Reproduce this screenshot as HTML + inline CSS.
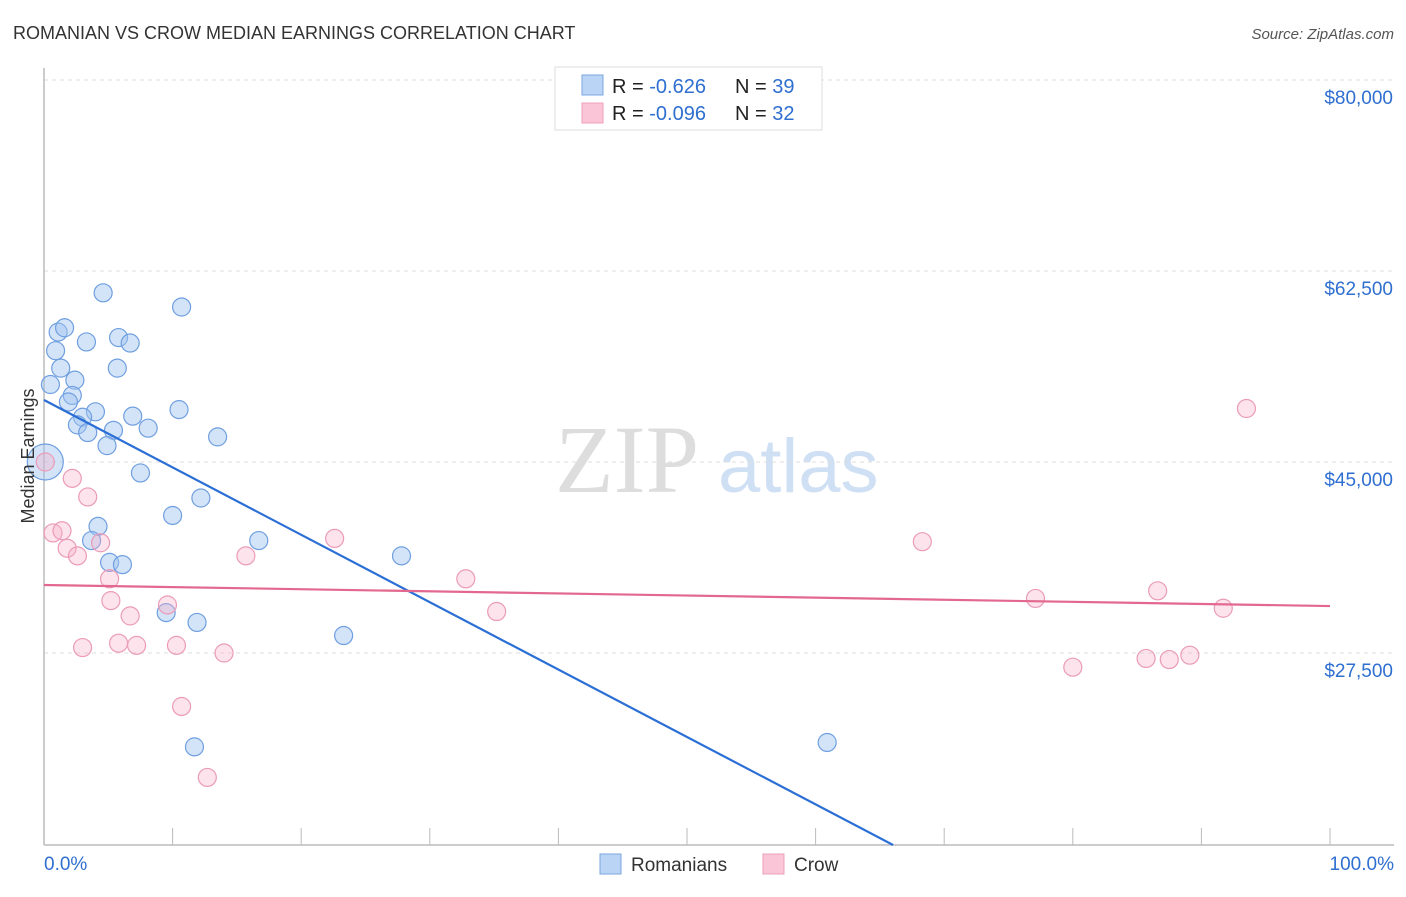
<!DOCTYPE html>
<html><head><meta charset="utf-8"><style>
html,body{margin:0;padding:0;background:#fff;}
body{width:1406px;height:892px;overflow:hidden;font-family:"Liberation Sans",sans-serif;}
</style></head>
<body>
<svg id="chart" width="1406" height="892" xmlns="http://www.w3.org/2000/svg" font-family="Liberation Sans, sans-serif">
<text x="13" y="39" font-size="18" fill="#333">ROMANIAN VS CROW MEDIAN EARNINGS CORRELATION CHART</text>
<text x="1394" y="39" font-size="15" fill="#555" text-anchor="end" font-style="italic">Source: ZipAtlas.com</text>
<g>
<text x="555" y="492" font-size="96" fill="#ddd" font-family="Liberation Serif, serif">ZIP</text>
<text x="718" y="492" font-size="76" fill="#cfe0f4">atlas</text>
</g>
<g id="grid"></g>
<g id="axes"></g>
<g id="pts"></g>
<g id="trends"></g>
<text transform="translate(34,456) rotate(-90)" font-size="18" fill="#333" text-anchor="middle">Median Earnings</text>
<g>
<rect x="555" y="67" width="267" height="63" fill="#fff" stroke="#ddd"/>
<rect x="582" y="75" width="21" height="20" fill="#b9d4f5" stroke="#7aa6e0"/>
<rect x="582" y="103" width="21" height="20" fill="#fac5d6" stroke="#eda0bb"/>
<text x="612" y="93" font-size="20" fill="#222">R = <tspan fill="#2e6fd0">-0.626</tspan><tspan x="735">N = </tspan><tspan fill="#2e6fd0">39</tspan></text>
<text x="612" y="120" font-size="20" fill="#222">R = <tspan fill="#2e6fd0">-0.096</tspan><tspan x="735">N = </tspan><tspan fill="#2e6fd0">32</tspan></text>
</g>
<g>
<rect x="600" y="854" width="21" height="20" fill="#b9d4f5" stroke="#7aa6e0"/>
<text x="631" y="871" font-size="19" fill="#333">Romanians</text>
</g>
<g>
<rect x="763" y="854" width="21" height="20" fill="#fac5d6" stroke="#eda0bb"/>
<text x="794" y="871" font-size="19" fill="#333">Crow</text>
</g>
</svg>
<script>
const yTicks=[27500,45000,62500,80000];
const yTickLabels=["$27,500","$45,000","$62,500","$80,000"];
const xTickPcts=[0,10,20,30,40,50,60,70,80,90,100];
const romX=[4.6,10.7,1.1,1.6,3.3,5.8,6.7,0.9,1.3,5.7,2.4,0.5,2.2,1.9,4.0,3.0,6.9,10.5,2.6,3.4,5.4,8.1,13.5,4.9,0.1,7.5,12.2,10.0,4.2,3.7,16.7,27.8,5.1,6.1,9.5,11.9,23.3,11.7,60.9];
const romY=[60500,59200,56900,57300,56000,56400,55900,55200,53600,53600,52500,52100,51100,50500,49600,49100,49200,49800,48400,47700,47900,48100,47300,46500,45000,44000,41700,40100,39100,37800,37800,36400,35800,35600,31200,30300,29100,18900,19300];
const crowX=[0.1,2.2,3.4,0.7,1.4,1.8,2.6,4.4,5.1,5.2,6.7,3.0,5.8,7.2,9.6,10.3,14.0,15.7,22.6,32.8,35.2,10.7,12.7,68.3,77.1,80.0,85.7,87.5,89.1,86.6,91.7,93.5];
const crowY=[45000,43500,41800,38500,38700,37100,36400,37600,34300,32300,30900,28000,28400,28200,31900,28200,27500,36400,38000,34300,31300,22600,16100,37700,32500,26200,27000,26900,27300,33200,31600,49900];
const romTrend=[50680,-11070];
const crowTrend=[33730,31800];
const NS="http://www.w3.org/2000/svg";
function X(p){return 44+p*12.86;}
function Y(v){return 653-(v-27500)*191/17500;}
function mk(tag,attrs,parent){const e=document.createElementNS(NS,tag);for(const k in attrs)e.setAttribute(k,attrs[k]);parent.appendChild(e);return e;}
const grid=document.getElementById('grid'),axes=document.getElementById('axes'),pts=document.getElementById('pts'),tr=document.getElementById('trends');
yTicks.forEach((t,i)=>{
 const l=mk('line',{x1:44,x2:1394,y1:Y(t),y2:Y(t),stroke:'#ddd','stroke-dasharray':'4,4'},grid);
 
 
 const tx=mk('text',{x:1393,y:Y(t)+24,'font-size':19,fill:'#2e6fd0','text-anchor':'end'},axes);
 tx.textContent=yTickLabels[i];
 
 
});
const ya=mk('line',{x1:44,x2:44,y1:68,y2:845,stroke:'#bbb','stroke-width':1.5},axes);


const xa=mk('line',{x1:44,x2:1394,y1:845,y2:845,stroke:'#bbb','stroke-width':1.5},axes);


xTickPcts.forEach(p=>{
 const t=mk('line',{x1:X(p),x2:X(p),y1:828,y2:845,stroke:'#bbb'},axes);
 
 
});
const x0=mk('text',{x:44,y:870,'font-size':19,fill:'#2e6fd0'},axes);x0.textContent='0.0%';


const x1=mk('text',{x:1394,y:870,'font-size':19,fill:'#2e6fd0','text-anchor':'end'},axes);x1.textContent='100.0%';


romX.forEach((p,i)=>{
 const big=(p<0.5&&romY[i]===45000);
 const c=mk('circle',{cx:X(p),cy:Y(romY[i]),r:big?18:9,fill:'rgba(160,196,240,0.45)',stroke:'#6f9fe0','stroke-width':1.2},pts);
 
 
});
crowX.forEach((p,i)=>{
 const c=mk('circle',{cx:X(p),cy:Y(crowY[i]),r:9,fill:'rgba(246,176,200,0.35)',stroke:'#eb9bb8','stroke-width':1.2},pts);
 
 
});
// blue trend clipped at x-axis bottom
const yMin=27500-(845-653)*17500/191;
let pEnd=100;
if(romTrend[1]<yMin){pEnd=(romTrend[0]-yMin)/(romTrend[0]-romTrend[1])*100;}
const vEnd=romTrend[0]+(romTrend[1]-romTrend[0])*pEnd/100;
const bl=mk('line',{x1:X(0),y1:Y(romTrend[0]),x2:X(pEnd),y2:Y(vEnd),stroke:'#2b6fd6','stroke-width':2.2},tr);


const pl=mk('line',{x1:X(0),y1:Y(crowTrend[0]),x2:X(100),y2:Y(crowTrend[1]),stroke:'#e3688f','stroke-width':2.2},tr);


</script>
</body></html>
